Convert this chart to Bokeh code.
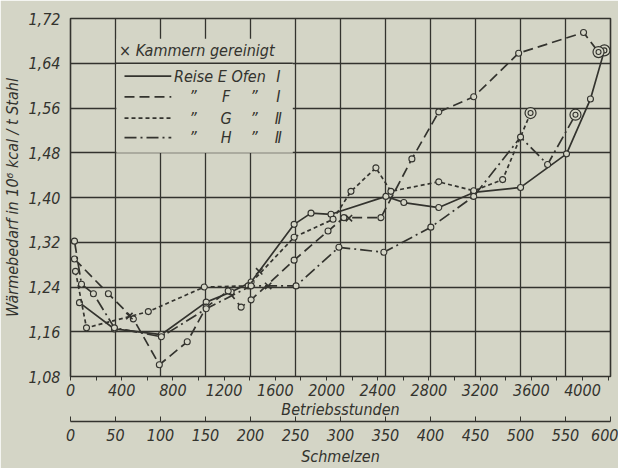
from bokeh.plotting import figure
from bokeh.models import (Range1d, LinearAxis, FixedTicker, Grid, Label,
                          ColumnDataSource, CustomJSTickFormatter)
from bokeh.embed import file_html
from bokeh.resources import INLINE

# Betriebsstunden (h) and Wärmebedarf (10^6 kcal / t Stahl) per Reise
e_hours = [70, 343, 710, 1060, 1255, 1411, 1747, 1879, 2035, 2464, 2604,
           2877, 3150, 3516, 3875, 4062, 4171]
e_heat = [1.212, 1.165, 1.155, 1.213, 1.231, 1.249, 1.352, 1.372, 1.370,
          1.402, 1.391, 1.382, 1.409, 1.418, 1.478, 1.576, 1.663]

f_hours = [31, 296, 491, 694, 912, 1060, 1232, 1333, 1411, 1747, 2012, 2136,
           2425, 2667, 2877, 3150, 3501, 4008, 4125]
f_heat = [1.290, 1.228, 1.183, 1.101, 1.142, 1.204, 1.233, 1.204, 1.217,
          1.288, 1.340, 1.364, 1.364, 1.469, 1.553, 1.580, 1.658, 1.695, 1.660]

g_hours = [39, 125, 608, 1045, 1388, 1747, 2051, 2191, 2386, 2503, 2877,
           3150, 3376, 3594]
g_heat = [1.268, 1.167, 1.196, 1.240, 1.242, 1.329, 1.361, 1.411, 1.453,
          1.411, 1.428, 1.412, 1.432, 1.551]

h_hours = [31, 86, 179, 343, 710, 1060, 1411, 1762, 2097, 2448, 2815, 3150,
           3516, 3727, 3945]
h_heat = [1.322, 1.245, 1.228, 1.167, 1.151, 1.201, 1.242, 1.242, 1.311,
          1.302, 1.347, 1.402, 1.508, 1.459, 1.548]

# Kammern gereinigt
clean_hours = [460, 1474, 1544, 2175]
clean_heat = [1.188, 1.268, 1.242, 1.363]

y_ticks = [1.08, 1.16, 1.24, 1.32, 1.40, 1.48, 1.56, 1.64, 1.72]
hour_ticks = [0, 400, 800, 1200, 1600, 2000, 2400, 2800, 3200, 3600, 4000]
hour_minor = [200, 600, 1000, 1400, 1800, 2200, 2600, 3000, 3400, 3800, 4200]
heat_count_ticks = [0, 50, 100, 150, 200, 250, 300, 350, 400, 450, 500, 550, 600]
HOURS_PER_HEAT = 7.031

BG = "#d4d5c6"
INK = "#33332e"
FONT = "DejaVu Sans Condensed"

p = figure(width=618, height=468,
           x_range=Range1d(0, 600), y_range=Range1d(1.08, 1.72),
           x_axis_type=None, y_axis_type=None,
           toolbar_location=None, output_backend="svg",
           min_border_left=69, min_border_right=8,
           min_border_top=18, min_border_bottom=90,
           background_fill_color=BG, border_fill_color=BG,
           outline_line_color=INK, outline_line_width=1.6)

p.extra_x_ranges = {"hours": Range1d(0, 600 * HOURS_PER_HEAT)}

# grid on the Schmelzen divisions and the heat-demand ticks
p.add_layout(Grid(dimension=0, ticker=FixedTicker(ticks=heat_count_ticks),
                  grid_line_color=INK, grid_line_width=1.3))
p.add_layout(Grid(dimension=1, ticker=FixedTicker(ticks=y_ticks),
                  grid_line_color=INK, grid_line_width=1.3))


def style_axis(ax):
    ax.major_label_text_font = FONT
    ax.major_label_text_font_style = "italic"
    ax.major_label_text_font_size = "16px"
    ax.major_label_text_color = INK
    ax.axis_label_text_font = FONT
    ax.axis_label_text_font_style = "italic"
    ax.axis_label_text_font_size = "16px"
    ax.axis_label_text_color = INK


yax = LinearAxis(ticker=FixedTicker(ticks=y_ticks),
                 formatter=CustomJSTickFormatter(code="return tick.toFixed(2).replace('.', ',')"),
                 axis_label="Wärmebedarf in 10⁶ kcal / t Stahl",
                 axis_line_color=None, major_tick_line_color=None,
                 minor_tick_line_color=None, major_label_standoff=4,
                 axis_label_standoff=3)
style_axis(yax)
p.add_layout(yax, "left")

hax = LinearAxis(x_range_name="hours",
                 ticker=FixedTicker(ticks=hour_ticks, minor_ticks=hour_minor),
                 axis_label="Betriebsstunden",
                 axis_line_color=None, major_tick_line_color=INK,
                 minor_tick_line_color=INK, major_tick_in=0, major_tick_out=4,
                 minor_tick_in=0, minor_tick_out=4,
                 major_label_standoff=3, axis_label_standoff=1)
style_axis(hax)
p.add_layout(hax, "below")

sax = LinearAxis(ticker=FixedTicker(ticks=heat_count_ticks),
                 axis_label="Schmelzen",
                 axis_line_color=INK, axis_line_width=1.3,
                 major_tick_line_color=INK, major_tick_in=5, major_tick_out=0,
                 minor_tick_line_color=None,
                 major_label_standoff=7, axis_label_standoff=3)
style_axis(sax)
p.add_layout(sax, "below")

# legend panel: blank area over the grid, keeping the 1,64 line
p.quad(left=51, right=247, bottom=1.48, top=1.684, fill_color=BG, line_color=None)
p.line(x=[50, 247], y=[1.64, 1.64], line_color=INK, line_width=1.3)

styles = [
    (e_hours, e_heat, "solid"),
    (f_hours, f_heat, "10 5"),
    (g_hours, g_heat, "4 3"),
    (h_hours, h_heat, "12 4 2 4"),
]

for hrs, heat, dash in styles:
    src = ColumnDataSource(dict(x=hrs, y=heat))
    p.line("x", "y", source=src, x_range_name="hours", line_color=INK,
           line_width=1.7, line_dash=dash)
    p.scatter("x", "y", source=src, x_range_name="hours", marker="circle",
              size=6, line_color=INK, line_width=1.1, fill_color=BG)
    end = ColumnDataSource(dict(x=hrs[-1:], y=heat[-1:]))
    p.scatter("x", "y", source=end, x_range_name="hours", marker="circle",
              size=11, line_color=INK, line_width=1.2, fill_color=BG)
    p.scatter("x", "y", source=end, x_range_name="hours", marker="circle",
              size=5, line_color=INK, line_width=1.1, fill_color=BG)

p.scatter(clean_hours, clean_heat, x_range_name="hours", marker="x", size=9,
          line_color=INK, line_width=1.6)

# legend entries
rows = [1.617, 1.580, 1.542, 1.507]
for yv, (_, _, dash) in zip(rows, styles):
    p.line(x=[60, 112], y=[yv, yv], line_color=INK, line_width=1.7, line_dash=dash)


def label(x, y, text, align="left"):
    p.add_layout(Label(x=x, y=y, text=text, text_font=FONT,
                       text_font_style="italic", text_font_size="16px",
                       text_color=INK, text_align=align, text_baseline="middle"))


label(54, 1.663, "× Kammern gereinigt")
label(115, rows[0], "Reise E Ofen")
label(231, rows[0], "Ⅰ", "center")
for yv, letter, num in zip(rows[1:], ["F", "G", "H"], ["Ⅰ", "Ⅱ", "Ⅱ"]):
    label(136, yv, "”", "center")
    label(173, yv, letter, "center")
    label(204, yv, "”", "center")
    label(231, yv, num, "center")

open("out.html", "w").write(file_html(p, INLINE))
